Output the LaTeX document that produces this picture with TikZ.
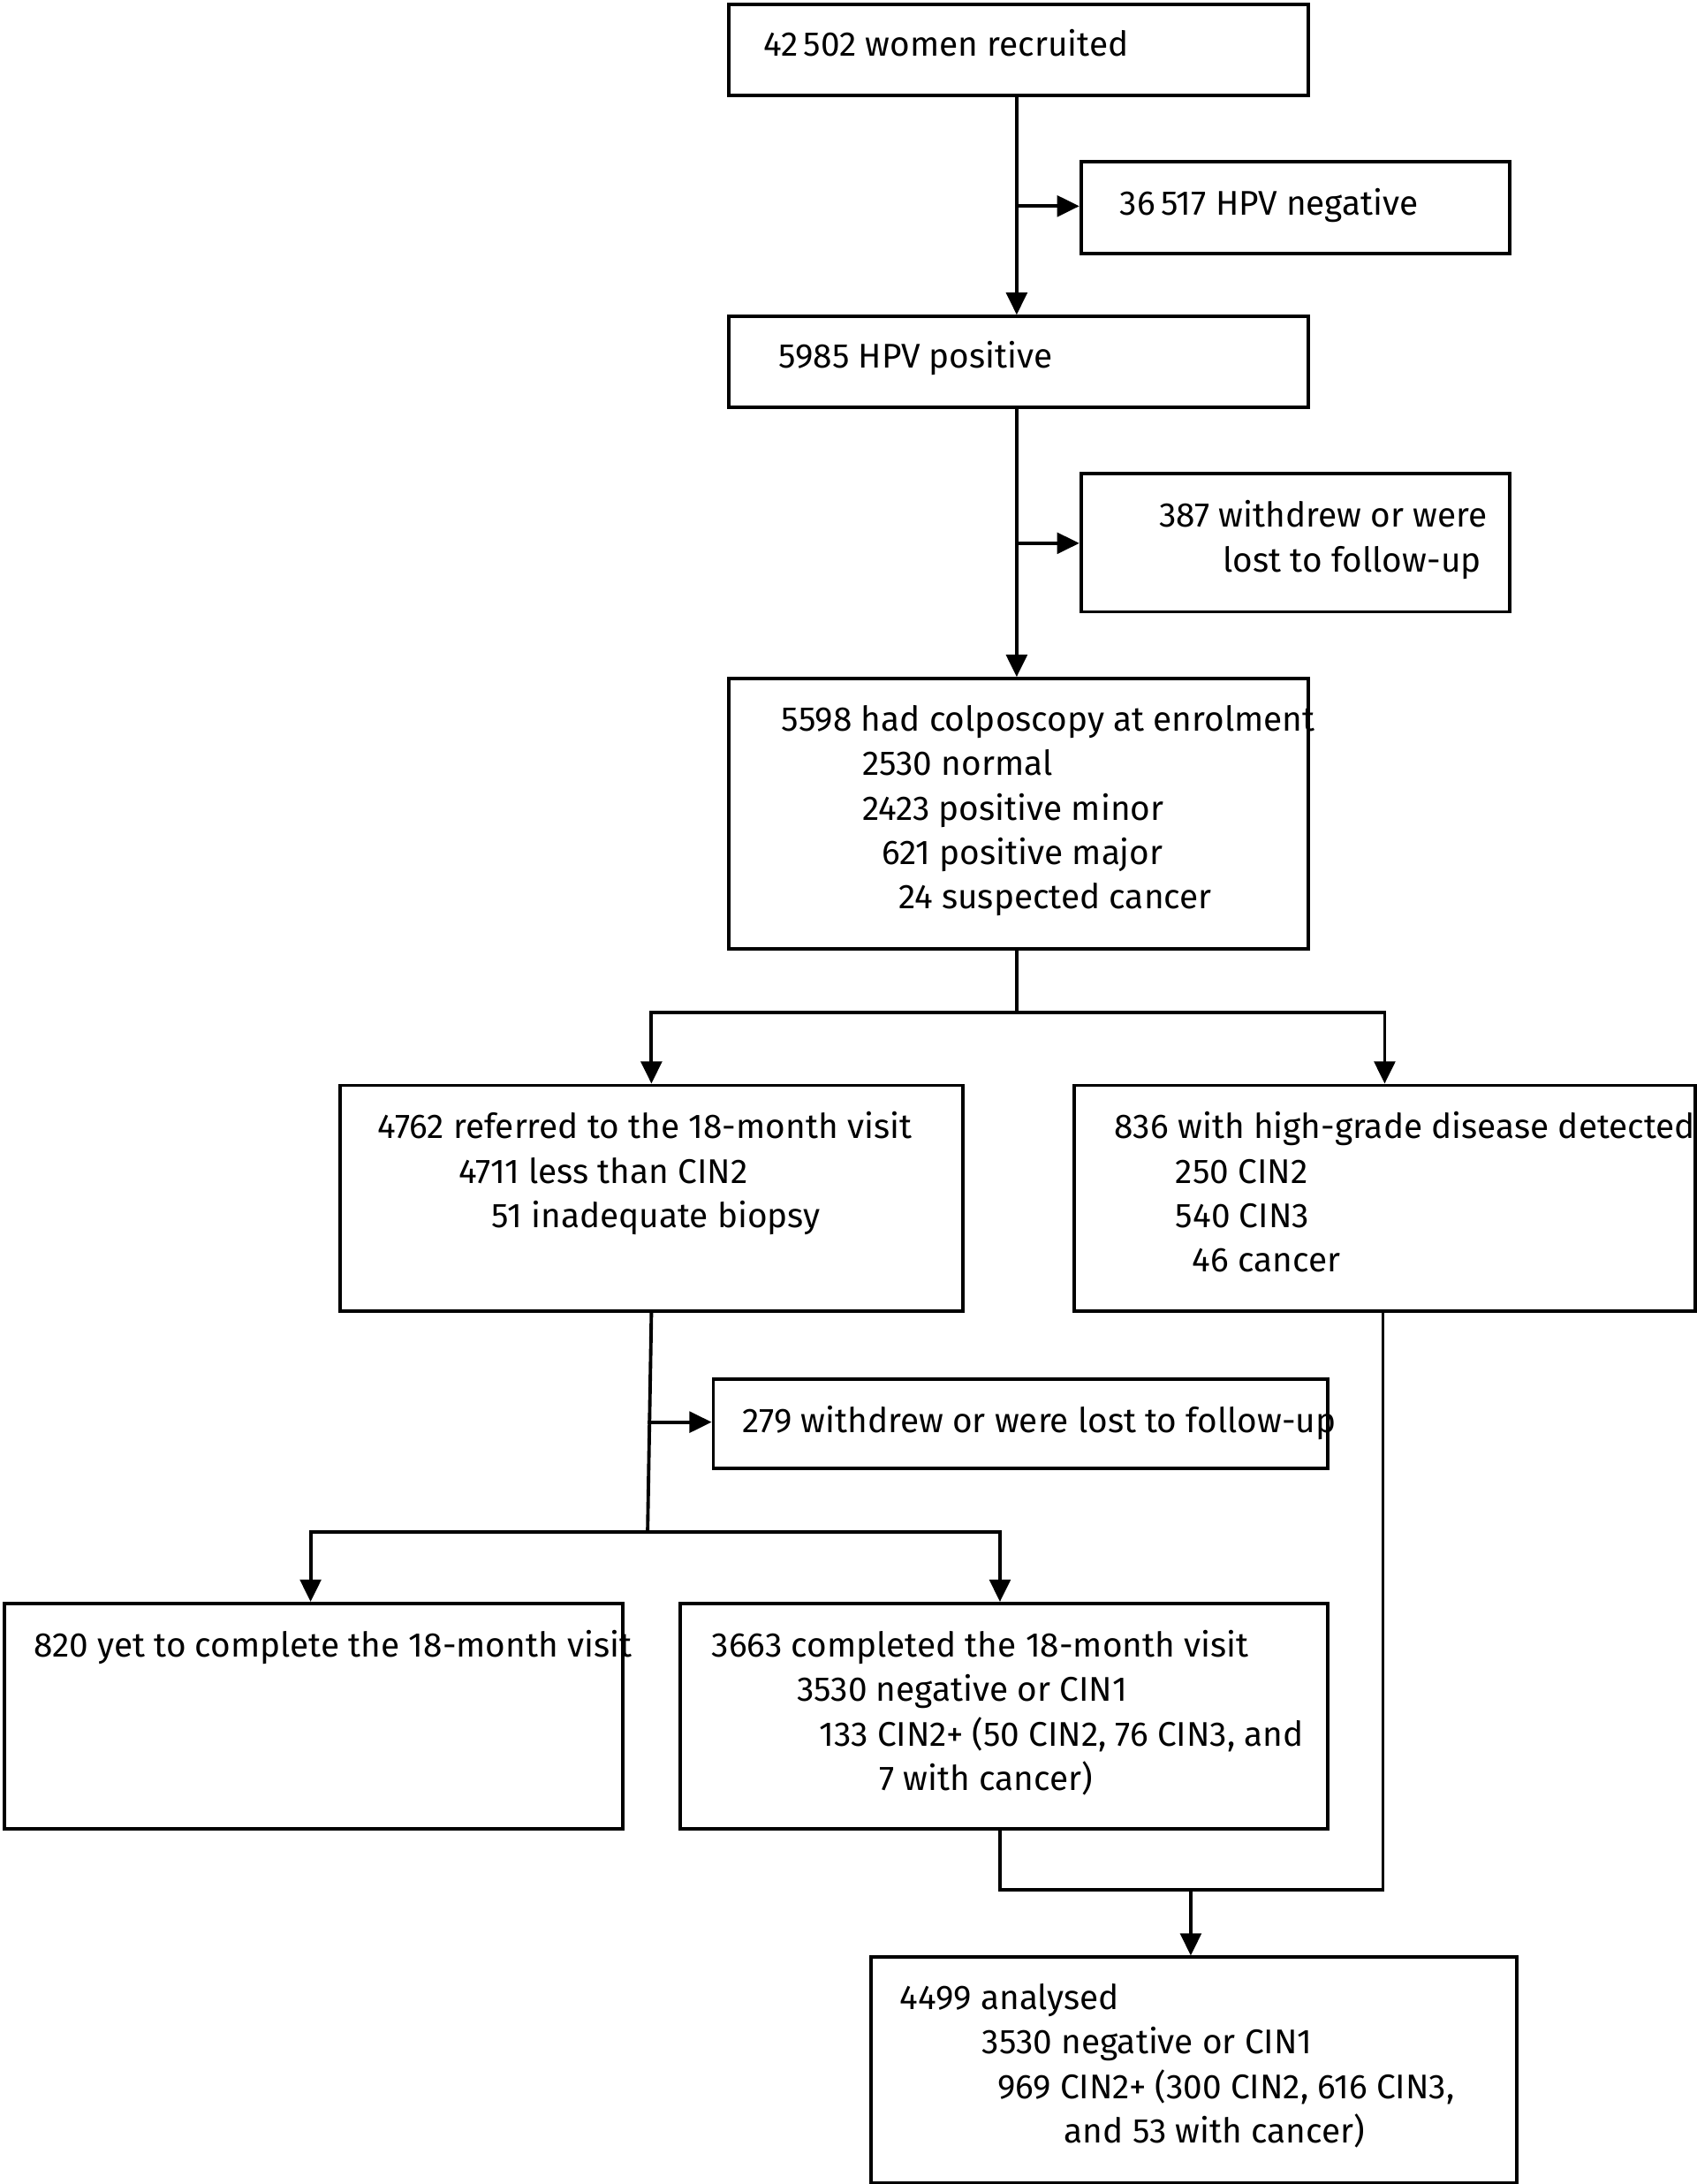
\documentclass[tikz,border=0pt]{standalone}
\usepackage{fontspec}
\setmainfont{Fira Sans}
\usetikzlibrary{arrows.meta,positioning}
\newcommand{\ind}[1]{\hspace*{#1\dimexpr0.02cm\relax}}
\begin{document}
\begin{tikzpicture}[x=0.02cm,y=-0.02cm,line width=1.4pt,
  bx/.style={draw,anchor=north west,inner sep=0pt},
  txt/.style={anchor=north west,inner sep=0pt,align=left,font=\fontsize{14}{18.2}\selectfont},
  arr/.style={-{Triangle[length=0.32cm,width=0.3cm]}}]
\useasboundingbox (0,0) rectangle (1218,1568);
% boxes
\node[bx,minimum width=416*0.02cm,minimum height=65*0.02cm] (rec) at (522,2) {};
\node[bx,minimum width=308*0.02cm,minimum height=66*0.02cm] (neg) at (775,115) {};
\node[bx,minimum width=416*0.02cm,minimum height=65*0.02cm] (pos) at (522,226) {};
\node[bx,minimum width=308*0.02cm,minimum height=99*0.02cm] (wd1) at (775,339) {};
\node[bx,minimum width=416*0.02cm,minimum height=194*0.02cm] (colp) at (522,486) {};
\node[bx,minimum width=447*0.02cm,minimum height=162*0.02cm] (ref) at (243,778) {};
\node[bx,minimum width=446*0.02cm,minimum height=162*0.02cm] (high) at (770,778) {};
\node[bx,minimum width=441*0.02cm,minimum height=64*0.02cm] (wd2) at (511,989) {};
\node[bx,minimum width=444*0.02cm,minimum height=162*0.02cm] (yet) at (2,1150) {};
\node[bx,minimum width=465*0.02cm,minimum height=162*0.02cm] (comp) at (487,1150) {};
\node[bx,minimum width=464*0.02cm,minimum height=162*0.02cm] (ana) at (624,1404) {};
% texts
\node[txt] (trec) at (547,20) {42\,502 women recruited};
\node[txt] (tneg) at (803,134) {36\,517 HPV negative};
\node[txt] (tpos) at (558,244) {5985 HPV positive};
\node[txt] (twd1) at (831,358) {387 withdrew or were\\\ind{46}lost to follow-up};
\node[txt] (tcolp) at (560,505) {5598 had colposcopy at enrolment\\\ind{58}2530 normal\\\ind{58}2423 positive minor\\\ind{72}621 positive major\\\ind{84}24 suspected cancer};
\node[txt] (tref) at (270,797) {4762 referred to the 18-month visit\\\ind{58}4711 less than CIN2\\\ind{82}51 inadequate biopsy};
\node[txt] (thigh) at (799,797) {836 with high-grade disease detected\\\ind{44}250 CIN2\\\ind{44}540 CIN3\\\ind{56}46 cancer};
\node[txt] (twd2) at (532,1008) {279 withdrew or were lost to follow-up};
\node[txt] (tyet) at (23,1169) {820 yet to complete the 18-month visit};
\node[txt] (tcomp) at (510,1169) {3663 completed the 18-month visit\\\ind{61}3530 negative or CIN1\\\ind{77}133 CIN2+ (50 CIN2, 76 CIN3, and\\\ind{120}7 with cancer)};
\node[txt] (tana) at (645,1423) {4499 analysed\\\ind{59}3530 negative or CIN1\\\ind{70}969 CIN2+ (300 CIN2, 616 CIN3,\\\ind{118}and 53 with cancer)};
% connectors
\coordinate (j1) at (730,148);
\coordinate (j2) at (730,390);
\coordinate (j3) at (730,727);
\coordinate (j4) at (465,1021);
\coordinate (j5) at (465,1100);
\coordinate (j6) at (855,1357);
\draw[arr] (rec.south -| j1) -- (pos.north -| j1);
\draw[arr] (j1) -- (j1 -| neg.west);
\draw[arr] (pos.south -| j2) -- (colp.north -| j2);
\draw[arr] (j2) -- (j2 -| wd1.west);
\draw (colp.south -| j3) -- (j3);
\draw[arr] (j3) -| (ref.north);
\draw[arr] (j3) -| (high.north);
\draw (ref.south) -- (j5);
\draw[arr] (j4) -- (j4 -| wd2.west);
\draw[arr] (j5) -| (yet.north -| 223,0);
\draw[arr] (j5) -| (comp.north -| 718,0);
\draw (comp.south -| 718,0) |- (j6);
\draw (high.south -| 993,0) |- (j6);
\draw[arr] (j6) -- (ana.north -| j6);
\end{tikzpicture}
\end{document}
